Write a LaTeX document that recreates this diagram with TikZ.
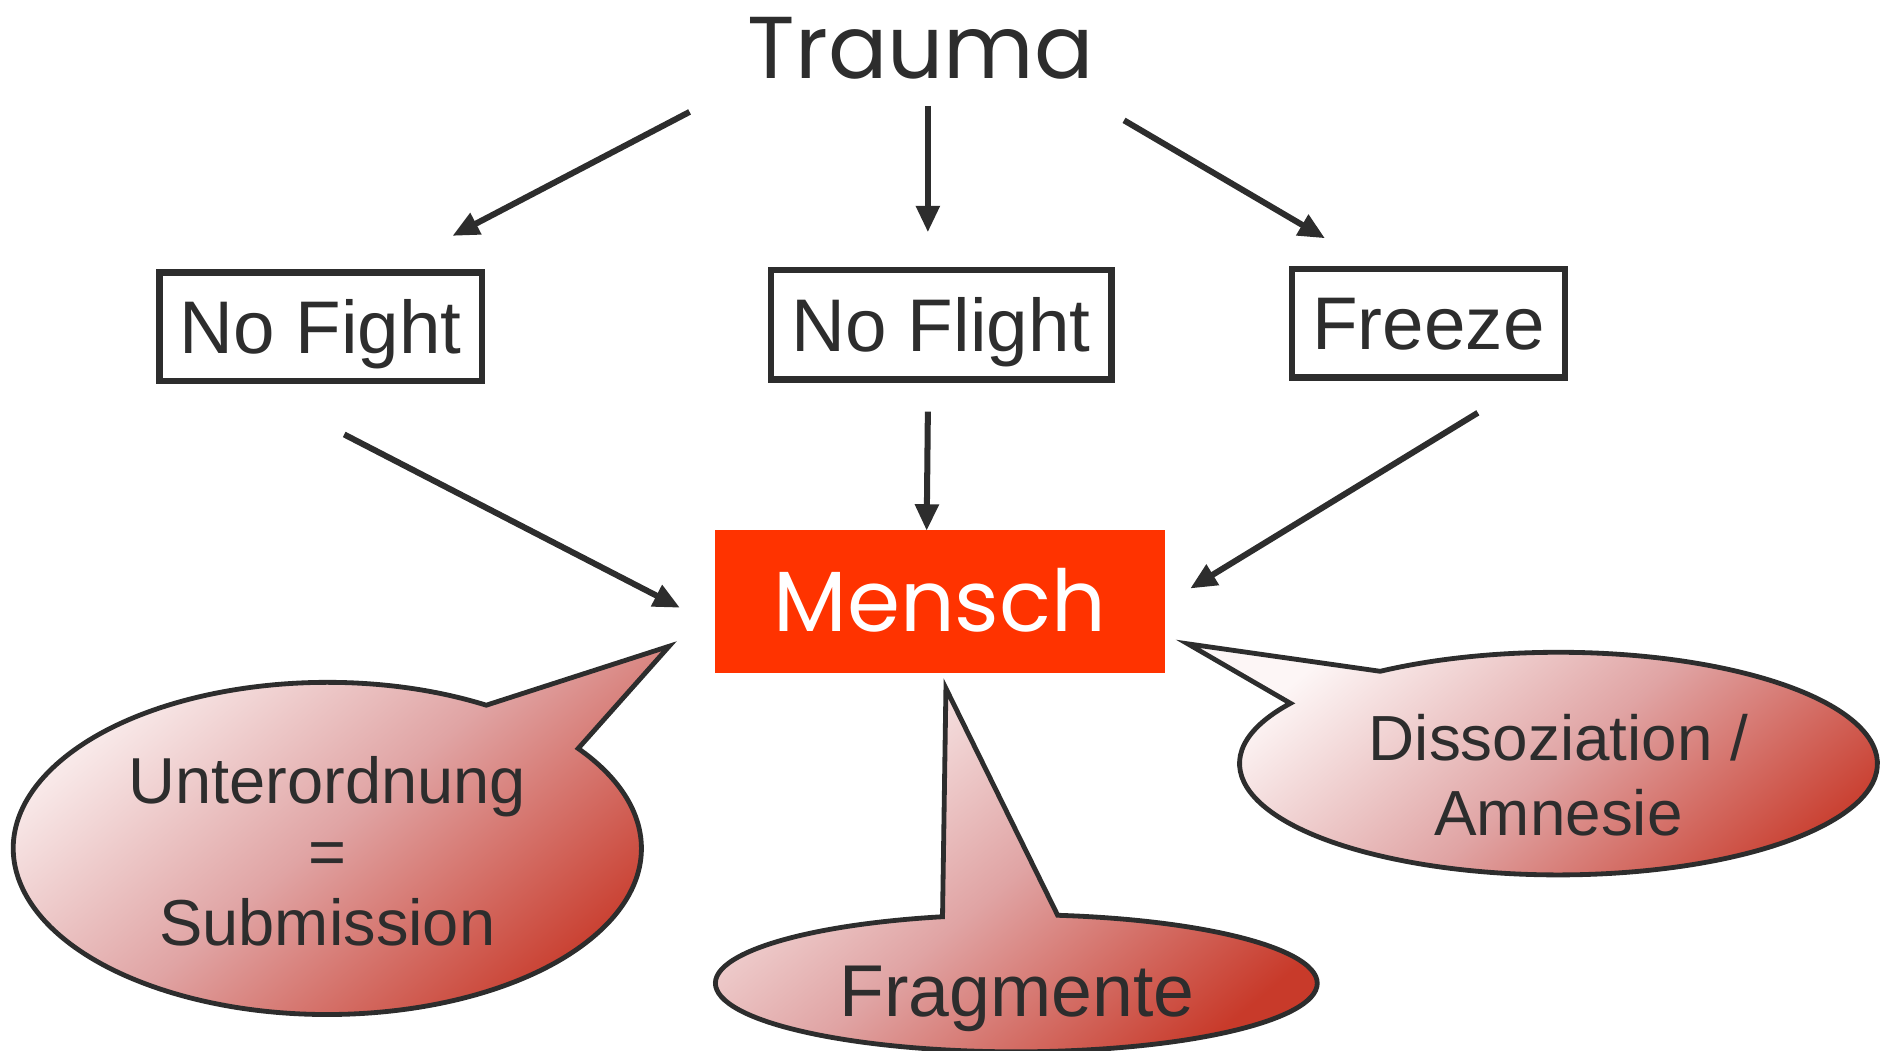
\documentclass[tikz,border=0pt]{standalone}
\usepackage{fontspec}
\setmainfont{Liberation Sans}
\newfontfamily\geo{Poppins}
\usetikzlibrary{arrows.meta}
\definecolor{ink}{HTML}{2D2D2D}
\definecolor{mred}{HTML}{FF3300}
\definecolor{bubA}{HTML}{FDF6F6}
\definecolor{bubB}{HTML}{E0A4A4}
\definecolor{bubC}{HTML}{C83A2A}
\tikzset{
  arr/.style={draw=ink, line width=5pt, -{Triangle[length=22pt,width=19pt]}},
  boxnode/.style={draw=ink, line width=5.5pt, text=ink, inner sep=0pt,
    font=\fontsize{62}{62}\selectfont, text height=44pt, text depth=0pt},
  bubble/.style={draw=ink, line width=4pt, line join=miter,
    top color=bubA, bottom color=bubC, middle color=bubB, shading angle=40},
  bubtext/.style={text=ink, anchor=base, inner sep=0pt},
}
\begin{document}
\begin{tikzpicture}[x=1pt,y=1pt]
\useasboundingbox (0,0) rectangle (1563,873);
% main nodes
\node[text=ink, font=\geo\fontsize{73}{73}\selectfont, inner sep=0pt, text height=52pt, text depth=0pt] (trauma) at (765,834) {Trauma};
\node[boxnode, minimum width=268pt, minimum height=90pt] (nofight) at (266.5,601.5) {No Fight};
\node[boxnode, minimum width=283pt, minimum height=91pt] (noflight) at (782,603) {No Flight};
\node[boxnode, minimum width=227pt, minimum height=90pt] (freeze) at (1187,604.5) {Freeze};
\node[fill=mred, text=white, font=\geo\fontsize{71}{71}\selectfont, inner sep=0pt,
  minimum width=374pt, minimum height=119pt, text height=50pt, text depth=0pt] (mensch) at (781,373.5) {Mensch};
% arrow end points
\coordinate (t1) at (573,780); \coordinate (h1) at (376,677);
\coordinate (t2) at (771,785); \coordinate (h2) at (771,680);
\coordinate (t3) at (934,773); \coordinate (h3) at (1101,675);
\coordinate (t4) at (286,512); \coordinate (h4) at (565,368);
\coordinate (t5) at (771,531); \coordinate (h5) at (770,432);
\coordinate (t6) at (1228,530); \coordinate (h6) at (989,384);
\draw[arr] (t1) -- (h1);
\draw[arr] (t2) -- (h2);
\draw[arr] (t3) -- (h3);
\draw[arr] (t4) -- (h4);
\draw[arr] (t5) -- (h5);
\draw[arr] (t6) -- (h6);
% bubbles
\coordinate (lc) at (272,168);
\coordinate (ltip) at (556,336);
\path[bubble] (lc) ++(59.6:261 and 138) arc[start angle=59.6, end angle=397, x radius=261, y radius=138] -- (ltip) -- cycle;
\coordinate (fc) at (844.5,56);
\coordinate (ftip) at (786,301);
\path[bubble] (fc) ++(104.2:250 and 57) arc[start angle=104.2, end angle=442.1, x radius=250, y radius=57] -- (ftip) -- cycle;
\coordinate (rc) at (1295,238.5);
\coordinate (rtip) at (987,338);
\path[bubble] (rc) ++(147.2:265 and 92.5) arc[start angle=147.2, end angle=484, x radius=265, y radius=92.5] -- (rtip) -- cycle;
% bubble texts
\node[bubtext, font=\fontsize{54}{54}\selectfont] (u1) at (272,205) {Unterordnung};
\node[bubtext, font=\fontsize{54}{54}\selectfont] (u2) at (272,146) {=};
\node[bubtext, font=\fontsize{54}{54}\selectfont] (u3) at (272,87) {Submission};
\node[bubtext, font=\fontsize{61}{61}\selectfont] (fr) at (845,28) {Fragmente};
\node[bubtext, font=\fontsize{53}{53}\selectfont] (d1) at (1295,241) {Dissoziation /};
\node[bubtext, font=\fontsize{53}{53}\selectfont] (d2) at (1295,179) {Amnesie};
\end{tikzpicture}
\end{document}
